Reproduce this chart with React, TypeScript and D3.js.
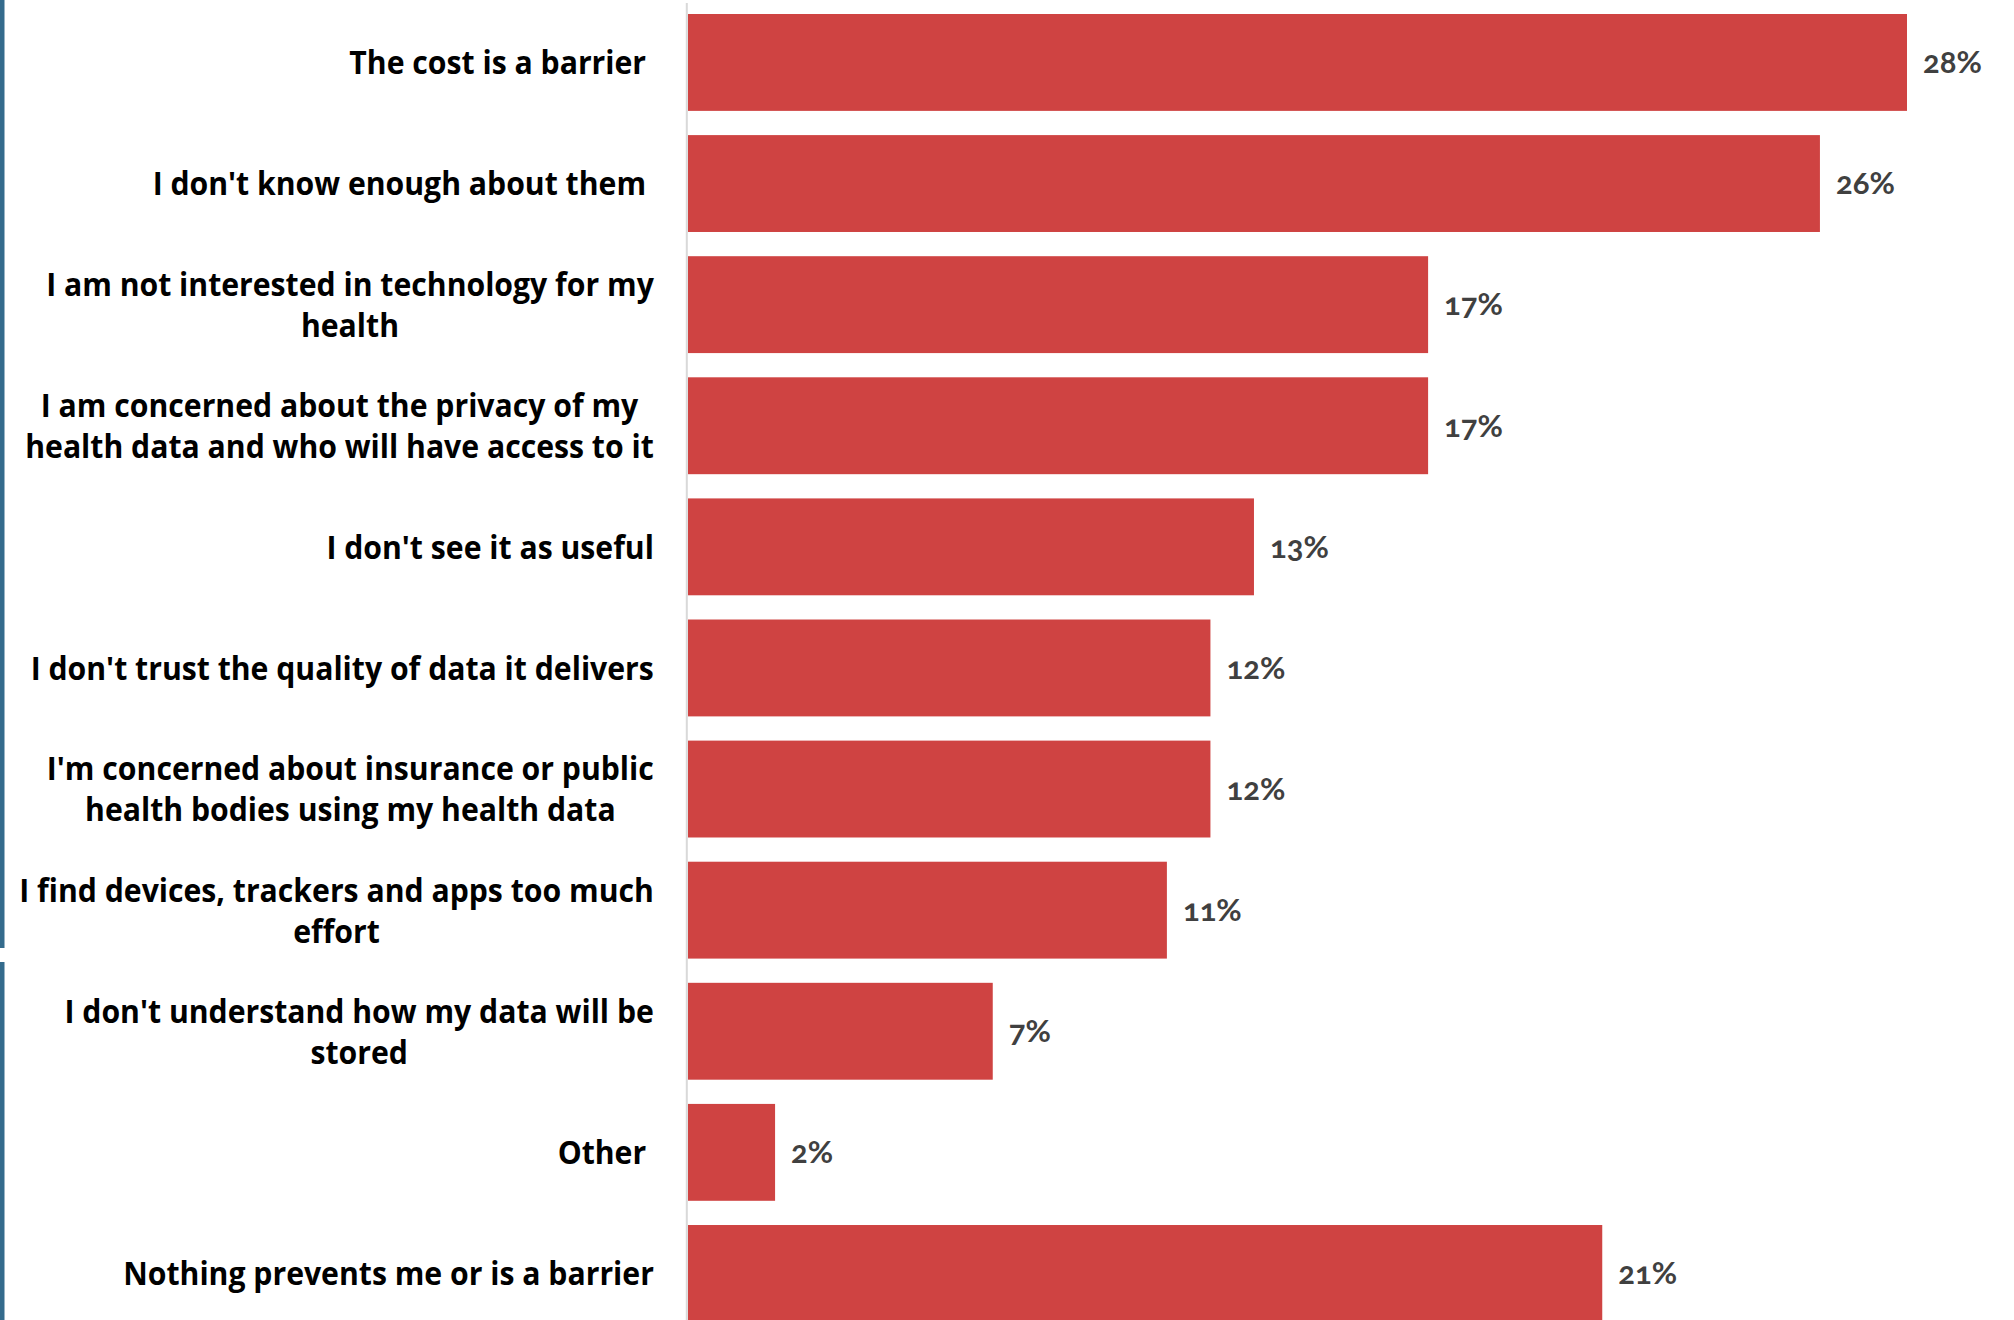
import React, { useEffect, useRef } from "react";
import * as d3 from "d3";

const categories: string[][] = [
  ["The cost is a barrier "],
  ["I don't know enough about them "],
  ["I am not interested in technology for my", "health"],
  ["I am concerned about the privacy of my", "health data and who will have access to it"],
  ["I don't see it as useful"],
  ["I don't trust the quality of data it delivers"],
  ["I'm concerned about insurance or public", "health bodies using my health data"],
  ["I find devices, trackers and apps too much", "effort"],
  ["I don't understand how my data will be", "stored"],
  ["Other "],
  ["Nothing prevents me or is a barrier"],
];
const values: number[] = [28, 26, 17, 17, 13, 12, 12, 11, 7, 2, 21];
const valueLabels: string[] = ["28%", "26%", "17%", "17%", "13%", "12%", "12%", "11%", "7%", "2%", "21%"];

const W = 2014;
const H = 1320;
const LABEL_FONT = "'Open Sans', Lato, sans-serif";
const VALUE_FONT = "Lato, 'Open Sans', sans-serif";
const SQUEEZE = 0.915;

export default function App() {
  const ref = useRef<SVGSVGElement | null>(null);

  useEffect(() => {
    const svg = d3.select(ref.current);
    svg.selectAll("*").remove();

    const keys = categories.map((c, i) => String(i));
    const x = d3.scaleLinear().domain([0, 28]).range([688, 1907]);
    const y = d3
      .scaleBand<string>()
      .domain(keys)
      .range([14, 14 + 11 * 121.1 - 24.2])
      .paddingInner(0.2)
      .paddingOuter(0);

    svg.append("rect").attr("x", 0).attr("y", 0).attr("width", W).attr("height", H).attr("fill", "#ffffff");

    // left blue accent
    svg.append("rect").attr("x", 0).attr("y", 0).attr("width", 4.5).attr("height", 948).attr("fill", "#346b8c");
    svg.append("rect").attr("x", 0).attr("y", 962).attr("width", 4.5).attr("height", H - 962).attr("fill", "#346b8c");

    // axis line
    svg
      .append("line")
      .attr("x1", 686.8)
      .attr("x2", 686.8)
      .attr("y1", 3)
      .attr("y2", H)
      .attr("stroke", "#d9d9d9")
      .attr("stroke-width", 2);

    // bars
    svg
      .selectAll("rect.bar")
      .data(values)
      .join("rect")
      .attr("class", "bar")
      .attr("x", x(0))
      .attr("y", (_, i) => y(keys[i]) as number)
      .attr("width", (d) => x(d) - x(0))
      .attr("height", y.bandwidth())
      .attr("fill", "#cf4342");

    // value labels
    svg
      .selectAll("text.val")
      .data(values)
      .join("text")
      .attr("class", "val")
      .attr("x", (d) => x(d) + 16)
      .attr("y", (_, i) => (y(keys[i]) as number) + y.bandwidth() / 2)
      .attr("dy", "0.35em")
      .attr("fill", "#404040")
      .attr("font-family", VALUE_FONT)
      .attr("font-weight", 700)
      .attr("font-size", 31)
      .style("font-variant-numeric", "oldstyle-nums")
      .text((_, i) => valueLabels[i]);

    // category labels
    const right = 654;
    const lineH = 41;
    categories.forEach((lines, i) => {
      const cy = (y(keys[i]) as number) + y.bandwidth() / 2;
      const g = svg.append("g");
      const texts = lines.map((ln, j) =>
        g
          .append("text")
          .attr("y", cy + (j - (lines.length - 1) / 2) * lineH)
          .attr("dy", "0.36em")
          .attr("fill", "#000000")
          .attr("font-family", LABEL_FONT)
          .attr("font-weight", 700)
          .attr("font-size", 33)
          .attr("text-anchor", "middle")
          .style("white-space", "pre")
          .text(ln)
      );
      const maxW = d3.max(texts, (t) => (t.node() as SVGTextElement).getComputedTextLength()) || 0;
      const cx = right - (maxW * SQUEEZE) / 2;
      texts.forEach((t) => {
        t.attr("x", 0).attr("transform", `translate(${cx},0) scale(${SQUEEZE},1)`);
      });
    });
  }, []);

  return (
    <div style={{ position: "fixed", left: 0, top: 0, width: W, height: H, background: "#fff" }}>
      <svg ref={ref} width={W} height={H} style={{ display: "block" }} />
    </div>
  );
}
